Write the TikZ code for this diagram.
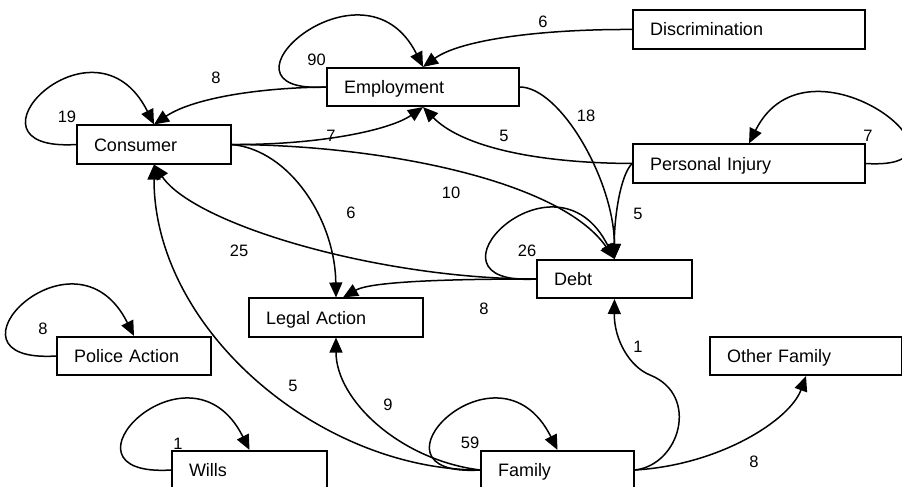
\documentclass[tikz,border=0pt]{standalone}
\usepackage{fontspec}
\setmainfont{Liberation Sans}
\usetikzlibrary{arrows.meta}
\begin{document}
\begin{tikzpicture}[x=1pt,y=-1pt,
  box/.style={draw, line width=1.6pt, fill=white, minimum height=38.5pt, inner xsep=17pt, inner ysep=0pt, align=left, text height=13pt, text depth=0pt, font=\fontsize{18}{20}\selectfont},
  edge/.style={line width=1.5pt, -{Triangle[length=15pt,width=13pt]}},
  lbl/.style={inner sep=0pt, font=\fontsize{16.5}{18}\selectfont}]
\useasboundingbox (0,0) rectangle (902,487);
\fill[white] (0,0) rectangle (902,487);
\clip (0,0) rectangle (902,487);
% nodes
\node[box, text width=158pt] (emp) at (423,87) {Employment};
\node[box, text width=120pt] (con) at (154,144.5) {Consumer};
\node[box, text width=198pt] (disc) at (749,29.5) {Discrimination};
\node[box, text width=198pt] (pi) at (749,163.5) {Personal Injury};
\node[box, text width=121pt] (debt) at (614.5,279) {Debt};
\node[box, text width=158pt] (of) at (806,356) {Other Family};
\node[box, text width=119pt] (fam) at (557.5,470) {Family};
\node[box, text width=140pt] (la) at (336,317.5) {Legal Action};
\node[box, text width=120pt] (police) at (134,356) {Police Action};
\node[box, text width=121pt] (wills) at (249.5,470) {Wills};
\coordinate (fdbend) at (650,375);
% edges
\draw[edge] (emp.west) .. controls +(-127,8) and +(-60,-120) .. (emp.north);
\draw[edge] (disc.west) .. controls (540,29) and (460,40) .. (emp.north);
\draw[edge] (con.west) .. controls +(-127,8) and +(-60,-120) .. (con.north);
\draw[edge] (emp.west) .. controls (250,88) and (190,100) .. (con.north);
\draw[edge] (con.east) .. controls (320,145) and (390,130) .. (emp.south);
\draw[edge] (pi.west) .. controls (530,163) and (460,145) .. (emp.south);
\draw[edge] (emp.east) .. controls (560,87) and (614,180) .. (debt.north);
\draw[edge] (con.east) .. controls (380,145) and (560,180) .. (debt.north);
\draw[edge] (pi.west) .. controls (620,175) and (614,220) .. (debt.north);
\draw[edge] (pi.east) .. controls +(127,8) and +(60,-120) .. (pi.north);
\draw[edge] (debt.west) .. controls +(-127,8) and +(-60,-120) .. (debt.north);
\draw[edge] (debt.west) .. controls (380,279) and (195,225) .. (con.south);
\draw[edge] (con.east) .. controls (290,150) and (335,220) .. (la.north);
\draw[edge] (debt.west) .. controls (440,279) and (370,282) .. ([xshift=7pt]la.north);
\draw[edge] (police.west) .. controls +(-127,8) and +(-60,-120) .. (police.north);
\draw[edge] (fam.west) .. controls (320,470) and (154,330) .. (con.south);
\draw[edge] (fam.west) .. controls (400,460) and (336,400) .. (la.south);
\draw[edge] (wills.west) .. controls +(-127,8) and +(-60,-120) .. (wills.north);
\draw[edge] (fam.west) .. controls +(-127,8) and +(-60,-120) .. (fam.north);
\draw[edge] (fam.east) .. controls (680,465) and (700,395) .. (fdbend) .. controls (630,367) and (614,340) .. (debt.south);
\draw[edge] (fam.east) .. controls (720,465) and (790,420) .. (of.south);
% labels
\node[lbl] (l90) at (316.5,60) {90};
\node[lbl] (l6a) at (543,22) {6};
\node[lbl] (l19) at (67,117) {19};
\node[lbl] (l8a) at (216,78) {8};
\node[lbl] (l7a) at (331,136) {7};
\node[lbl] (l5a) at (504,136) {5};
\node[lbl] (l18) at (586,116) {18};
\node[lbl] (l10) at (451,193) {10};
\node[lbl] (l5b) at (638,214) {5};
\node[lbl] (l7b) at (868,136) {7};
\node[lbl] (l26) at (527,251) {26};
\node[lbl] (l25) at (239,251) {25};
\node[lbl] (l6b) at (351,213) {6};
\node[lbl] (l8b) at (484,309) {8};
\node[lbl] (l8c) at (43,329) {8};
\node[lbl] (l5c) at (293,386) {5};
\node[lbl] (l9) at (388,405) {9};
\node[lbl] (l1a) at (178,444) {1};
\node[lbl] (l59) at (470,443) {59};
\node[lbl] (l1b) at (638,347) {1};
\node[lbl] (l8d) at (754,462) {8};
\end{tikzpicture}
\end{document}
